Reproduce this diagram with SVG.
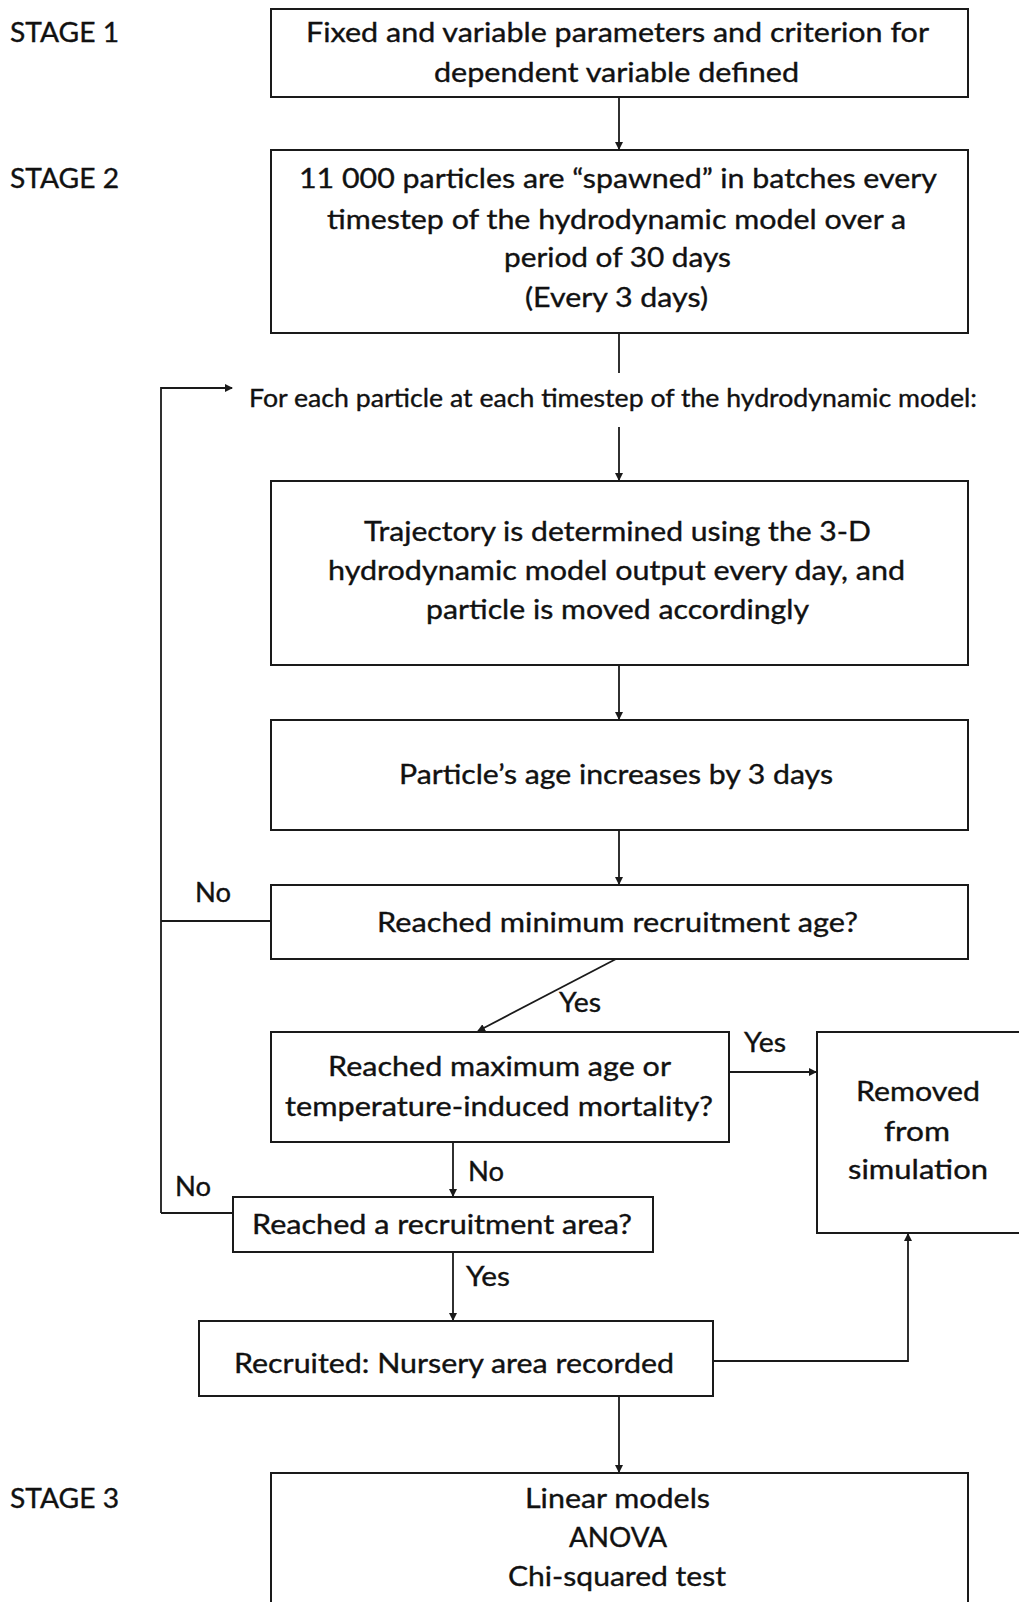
<svg xmlns="http://www.w3.org/2000/svg" width="1019" height="1602" viewBox="0 0 1019 1602">
<style>
.box{fill:#fff;stroke:#1a1a1a;stroke-width:2}
.t{font-family:Lato,"Liberation Sans",sans-serif;font-size:27px;fill:#111;stroke:#111;stroke-width:0.35;text-anchor:middle}
.l{font-family:Lato,"Liberation Sans",sans-serif;font-size:27px;fill:#111;stroke:#111;stroke-width:0.35}
.c{fill:none;stroke:#1a1a1a;stroke-width:1.8}
</style>
<defs>
<marker id="ah" markerWidth="8" markerHeight="8" refX="7" refY="4" orient="auto" markerUnits="userSpaceOnUse">
<path d="M0,0 L8,4 L0,8 Z" fill="#1a1a1a"/>
</marker>
</defs>
<rect width="1019" height="1602" fill="#fff"/>
<g id="stages">
<text class="l" x="10" y="42" textLength="109" lengthAdjust="spacingAndGlyphs">STAGE 1</text>
<text class="l" x="10" y="188" textLength="109" lengthAdjust="spacingAndGlyphs">STAGE 2</text>
<text class="l" x="10" y="1508" textLength="109" lengthAdjust="spacingAndGlyphs">STAGE 3</text>
</g>
<g id="connectors">
<path class="c" d="M619,97 V149" marker-end="url(#ah)"/>
<path class="c" d="M619,333 V373"/>
<path class="c" d="M161,1213 V388 H232" marker-end="url(#ah)"/>
<path class="c" d="M271,921 H161"/>
<path class="c" d="M233,1213 H161"/>
<path class="c" d="M619,427 V480" marker-end="url(#ah)"/>
<path class="c" d="M619,665 V719" marker-end="url(#ah)"/>
<path class="c" d="M619,830 V884" marker-end="url(#ah)"/>
<path class="c" d="M616,959 L478,1031" marker-end="url(#ah)"/>
<path class="c" d="M729,1072 H816" marker-end="url(#ah)"/>
<path class="c" d="M453,1142 V1196" marker-end="url(#ah)"/>
<path class="c" d="M453,1252 V1320" marker-end="url(#ah)"/>
<path class="c" d="M713,1361 H908 V1234" marker-end="url(#ah)"/>
<path class="c" d="M619,1396 V1472" marker-end="url(#ah)"/>
<text class="l" x="195" y="902" textLength="36" lengthAdjust="spacingAndGlyphs">No</text>
<text class="l" x="559" y="1012" textLength="42" lengthAdjust="spacingAndGlyphs">Yes</text>
<text class="l" x="744" y="1052" textLength="42" lengthAdjust="spacingAndGlyphs">Yes</text>
<text class="l" x="468" y="1181" textLength="36" lengthAdjust="spacingAndGlyphs">No</text>
<text class="l" x="175" y="1196" textLength="36" lengthAdjust="spacingAndGlyphs">No</text>
<text class="l" x="466" y="1286" textLength="44" lengthAdjust="spacingAndGlyphs">Yes</text>
</g>
<g id="n1">
<rect class="box" x="271" y="9" width="697" height="88"/>
<text class="t" x="617.5" y="42" textLength="623" lengthAdjust="spacingAndGlyphs">Fixed and variable parameters and criterion for</text>
<text class="t" x="616.5" y="82" textLength="365" lengthAdjust="spacingAndGlyphs">dependent variable defined</text>
</g>
<g id="n2">
<rect class="box" x="271" y="150" width="697" height="183"/>
<text class="t" x="618" y="188" textLength="638" lengthAdjust="spacingAndGlyphs">11 000 particles are “spawned” in batches every</text>
<text class="t" x="616.5" y="229" textLength="579" lengthAdjust="spacingAndGlyphs">timestep of the hydrodynamic model over a</text>
<text class="t" x="617.5" y="267" textLength="227" lengthAdjust="spacingAndGlyphs">period of 30 days</text>
<text class="t" x="616.5" y="307" textLength="183" lengthAdjust="spacingAndGlyphs">(Every 3 days)</text>
</g>
<g id="loop-label">
<text class="t" x="613" y="407" style="font-size:25px" textLength="728" lengthAdjust="spacingAndGlyphs">For each particle at each timestep of the hydrodynamic model:</text>
</g>
<g id="n3">
<rect class="box" x="271" y="481" width="697" height="184"/>
<text class="t" x="617.5" y="541" textLength="507" lengthAdjust="spacingAndGlyphs">Trajectory is determined using the 3-D</text>
<text class="t" x="616.5" y="580" textLength="577" lengthAdjust="spacingAndGlyphs">hydrodynamic model output every day, and</text>
<text class="t" x="617.5" y="619" textLength="383" lengthAdjust="spacingAndGlyphs">particle is moved accordingly</text>
</g>
<g id="n4">
<rect class="box" x="271" y="720" width="697" height="110"/>
<text class="t" x="616" y="784" textLength="434" lengthAdjust="spacingAndGlyphs">Particle’s age increases by 3 days</text>
</g>
<g id="n5">
<rect class="box" x="271" y="885" width="697" height="74"/>
<text class="t" x="617.5" y="932" textLength="481" lengthAdjust="spacingAndGlyphs">Reached minimum recruitment age?</text>
</g>
<g id="n6">
<rect class="box" x="271" y="1032" width="458" height="110"/>
<text class="t" x="499.5" y="1076" textLength="343" lengthAdjust="spacingAndGlyphs">Reached maximum age or</text>
<text class="t" x="499" y="1116" textLength="428" lengthAdjust="spacingAndGlyphs">temperature-induced mortality?</text>
</g>
<g id="n-removed">
<rect class="box" x="817" y="1032" width="215" height="201"/>
<text class="t" x="918" y="1101" textLength="124" lengthAdjust="spacingAndGlyphs">Removed</text>
<text class="t" x="917" y="1141" textLength="66" lengthAdjust="spacingAndGlyphs">from</text>
<text class="t" x="918" y="1179" textLength="140" lengthAdjust="spacingAndGlyphs">simulation</text>
</g>
<g id="n7">
<rect class="box" x="233" y="1197" width="420" height="55"/>
<text class="t" x="442" y="1234" textLength="380" lengthAdjust="spacingAndGlyphs">Reached a recruitment area?</text>
</g>
<g id="n8">
<rect class="box" x="199" y="1321" width="514" height="75"/>
<text class="t" x="454" y="1373" textLength="440" lengthAdjust="spacingAndGlyphs">Recruited: Nursery area recorded</text>
</g>
<g id="n9">
<rect class="box" x="271" y="1473" width="697" height="140"/>
<text class="t" x="617.5" y="1508" textLength="185" lengthAdjust="spacingAndGlyphs">Linear models</text>
<text class="t" x="618" y="1547" textLength="98" lengthAdjust="spacingAndGlyphs">ANOVA</text>
<text class="t" x="617" y="1586" textLength="218" lengthAdjust="spacingAndGlyphs">Chi-squared test</text>
</g>
</svg>
